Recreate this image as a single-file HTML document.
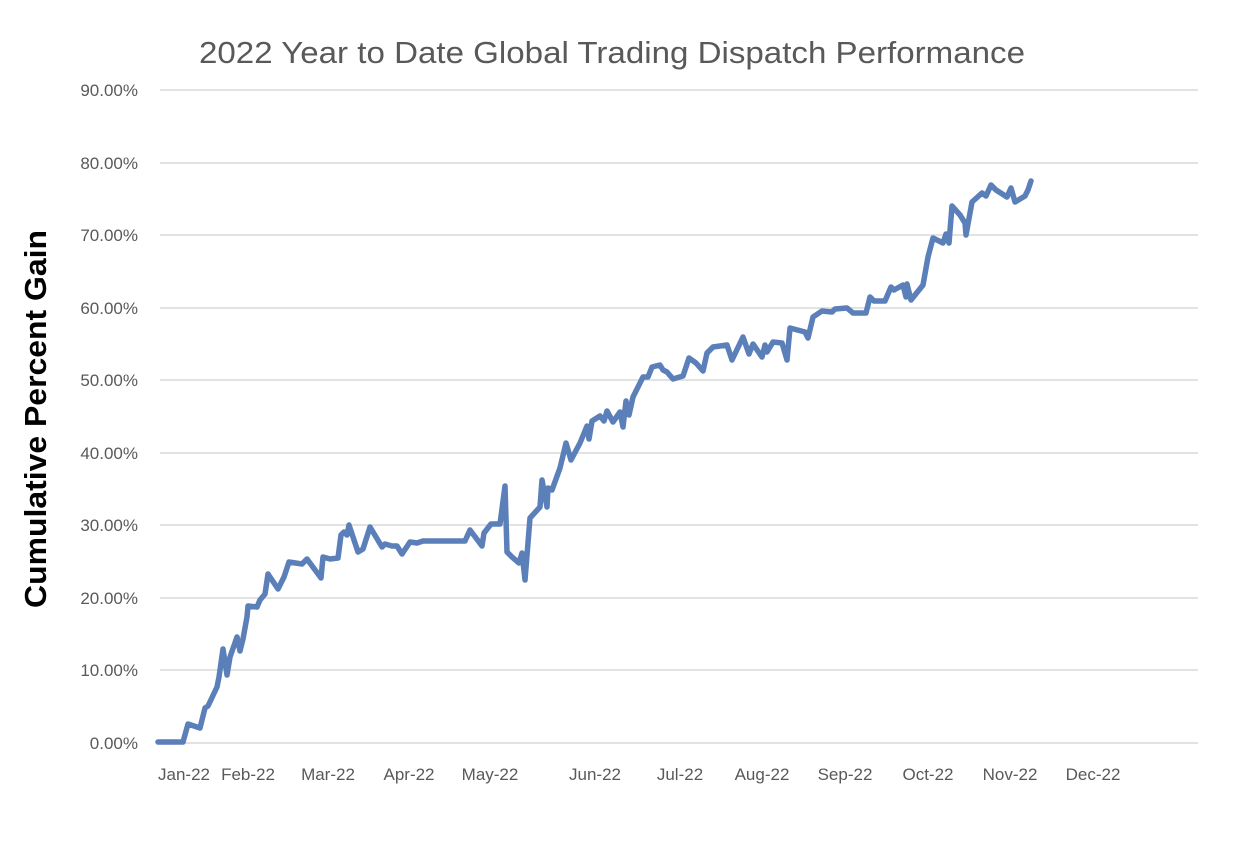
<!DOCTYPE html>
<html><head><meta charset="utf-8"><style>
html,body{margin:0;padding:0;background:#fff;}
svg{display:block;font-family:"Liberation Sans",sans-serif;}
</style></head><body>
<svg width="1244" height="848" viewBox="0 0 1244 848" xmlns="http://www.w3.org/2000/svg">
<rect width="1244" height="848" fill="#fff"/>
<text x="612" y="63" text-anchor="middle" font-size="31" textLength="826" lengthAdjust="spacingAndGlyphs" fill="#595959">2022 Year to Date Global Trading Dispatch Performance</text>
<text transform="translate(46,419) rotate(-90)" text-anchor="middle" font-size="31" font-weight="bold" textLength="378" lengthAdjust="spacingAndGlyphs" fill="#000">Cumulative Percent Gain</text>
<g stroke="#d9d9d9" stroke-width="1.5">
<line x1="160" x2="1198" y1="90" y2="90"/><line x1="160" x2="1198" y1="163" y2="163"/>
<line x1="160" x2="1198" y1="235" y2="235"/><line x1="160" x2="1198" y1="308" y2="308"/>
<line x1="160" x2="1198" y1="380" y2="380"/><line x1="160" x2="1198" y1="453" y2="453"/>
<line x1="160" x2="1198" y1="525" y2="525"/><line x1="160" x2="1198" y1="598" y2="598"/>
<line x1="160" x2="1198" y1="670" y2="670"/><line x1="160" x2="1198" y1="743" y2="743"/>
</g>
<g font-size="17" fill="#595959" text-anchor="end">
<text x="138" y="96">90.00%</text><text x="138" y="169">80.00%</text><text x="138" y="241">70.00%</text>
<text x="138" y="314">60.00%</text><text x="138" y="386">50.00%</text><text x="138" y="459">40.00%</text>
<text x="138" y="531">30.00%</text><text x="138" y="604">20.00%</text><text x="138" y="676">10.00%</text>
<text x="138" y="749">0.00%</text>
</g>
<g font-size="17" fill="#595959" text-anchor="middle">
<text x="184" y="780">Jan-22</text><text x="248" y="780">Feb-22</text><text x="328" y="780">Mar-22</text>
<text x="409" y="780">Apr-22</text><text x="490" y="780">May-22</text><text x="595" y="780">Jun-22</text>
<text x="680" y="780">Jul-22</text><text x="762" y="780">Aug-22</text><text x="845" y="780">Sep-22</text>
<text x="928" y="780">Oct-22</text><text x="1010" y="780">Nov-22</text><text x="1093" y="780">Dec-22</text>
</g>
<polyline fill="none" stroke="#5b7fb9" stroke-width="5.5" stroke-linejoin="round" stroke-linecap="round" points="
158,742 183,742 188,724 200,728 205,708 208,706 217,687 219,677 223,649 227,675 230,657 237,637 240,651 243,639 247,617 248,606 257,607 260,600 265,594 268,574 278,589 284,577 289,562 302,564 307,559 321,578 323,557 330,559 338,558 341,535 344,532 347,535 349,525 358,552 363,549 370,527 382,547 385,544 392,546 397,546 402,554 410,542 417,543 423,541 465,541 470,530 482,546 484,533 491,524 500,524 505,486 507,552 512,557 519,563 522,553 525,580 530,518 540,507 542,480 547,507 548,488 552,490 560,468 566,443 571,460 580,443 587,426 589,439 592,421 600,416 604,421 607,411 613,422 620,412 623,427 626,401 629,415 633,397 643,377 648,377 652,367 660,365 663,370 667,372 673,379 683,376 689,358 696,363 703,371 707,353 713,347 727,345 732,360 743,337 749,354 753,344 762,357 765,345 767,352 773,342 782,343 787,360 790,328 805,332 808,338 813,317 822,311 832,312 835,309 847,308 853,313 866,313 870,297 874,301 885,301 891,287 894,290 903,285 906,297 907,284 911,300 923,285 928,257 933,238 943,243 946,234 949,243 952,206 960,215 965,223 966,235 972,202 982,193 986,196 991,185 996,190 1007,197 1011,188 1015,202 1025,196 1028,190 1031,181"/>
</svg>
</body></html>
